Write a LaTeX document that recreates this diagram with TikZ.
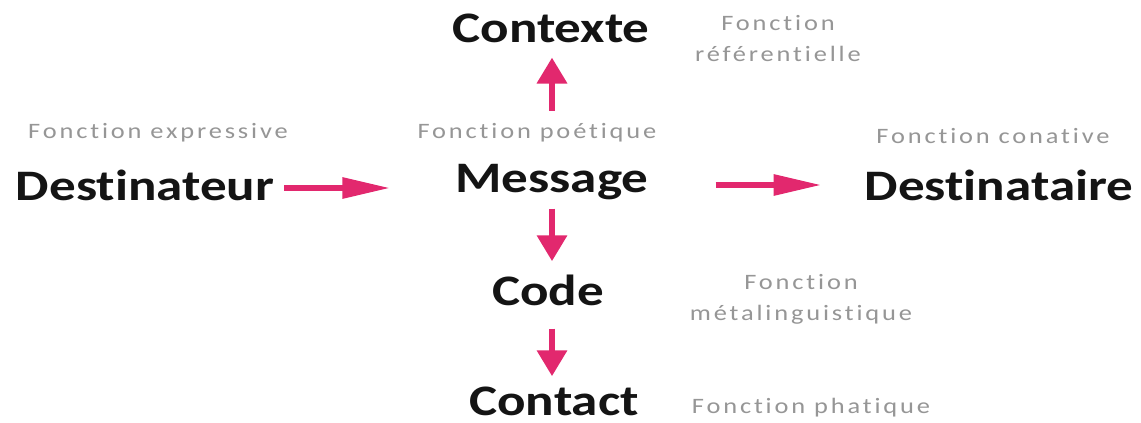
\documentclass[tikz,border=0pt]{standalone}
\usepackage{fontspec}
\usetikzlibrary{arrows.meta}
\newfontfamily\bigfont[FakeStretch=1.22,RawFeature=-liga]{Carlito}
\newfontfamily\labfont[FakeStretch=1.2,LetterSpace=13,RawFeature=-liga]{Carlito}
\definecolor{arrowpink}{RGB}{226,40,110}
\definecolor{labgray}{RGB}{150,150,150}
\definecolor{termblack}{RGB}{20,20,20}
\tikzset{
  term/.style={inner sep=0pt, anchor=base, text=termblack, font=\bigfont\bfseries\fontsize{43.5}{48}\selectfont},
  lab/.style={inner sep=0pt, text=labgray, align=center, font=\labfont\fontsize{22}{31}\selectfont},
  harrow/.style={draw=arrowpink, line width=6pt, -{Triangle[length=48pt,width=20pt]}},
  varrow/.style={draw=arrowpink, line width=6.5pt, -{Triangle[length=26pt,width=29pt]}},
}
\begin{document}
\begin{tikzpicture}[x=1pt,y=-1pt]
\useasboundingbox (0,0) rectangle (1141,423);
\fill[white] (0,0) rectangle (1141,423);
% terms
\node[term] (ctx) at (551,42) {Contexte};
\node[term] (msg) at (552,192) {Message};
\node[term] (code) at (548,305) {Code};
\node[term] (cont) at (554,415) {Contact};
\node[term] (dtr) at (145,200) {Destinateur};
\node[term] (dta) at (999,200) {Destinataire};
% labels
\node[lab, anchor=base] (fexp) at (158,138) {Fonction expressive};
\node[lab, anchor=base] (fpoe) at (537,138) {Fonction poétique};
\node[lab, anchor=base] (fcon) at (993,143) {Fonction conative};
\node[lab, anchor=base] (fpha) at (811,413) {Fonction phatique};
\node[lab, anchor=base] (fref) at (778,61) {Fonction\\référentielle};
\node[lab, anchor=base] (fmet) at (801,320) {Fonction\\métalinguistique};
% connectors
\draw[harrow, shorten <=10pt, shorten >=65pt] ([yshift=12pt]dtr.base east) -- ([yshift=4pt]msg.base west);
\draw[harrow, shorten <=67pt, shorten >=43pt] ([yshift=7pt]msg.base east) -- ([yshift=15pt]dta.base west);
\draw[varrow, shorten <=53pt, shorten >=15pt] (msg.north) -- (msg.north |- ctx.south);
\draw[varrow, shorten <=9pt, shorten >=13pt] (msg.south) -- (msg.south |- code.north);
\draw[varrow, shorten <=23pt, shorten >=10pt] (code.south -| msg.south) -- (msg.south |- cont.north);
\end{tikzpicture}
\end{document}
